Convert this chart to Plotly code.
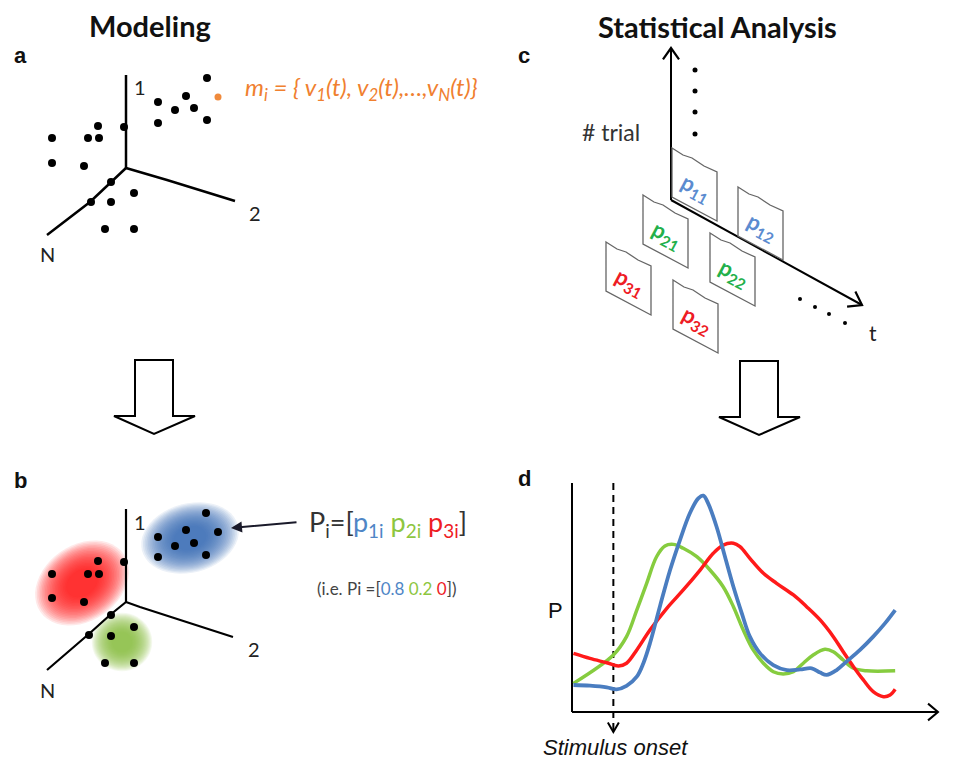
import numpy as np
import plotly.graph_objects as go

W, H = 957, 760

# ---------------- DATA ----------------
# Panel a: points in the N-dim feature space (drawing coordinates)
A_DOTS_X = [207, 186, 158, 175, 194, 158, 207, 98, 124, 52, 88, 99, 52, 84, 111, 134, 91, 111, 105, 134]
A_DOTS_Y = [78, 96, 102, 110, 108, 123, 120, 126, 127, 138, 138, 138, 163, 166, 182, 193, 202, 202, 229, 229]
A_HIGHLIGHT_X = [218]
A_HIGHLIGHT_Y = [97]

# Panel b: clustered points
B_BLUE_X = [206, 186, 218, 158, 175, 194, 158, 206]
B_BLUE_Y = [513, 530, 532, 537, 546, 543, 557, 555]
B_RED_X = [98, 124, 52, 88, 99, 52, 84]
B_RED_Y = [561, 562, 574, 574, 574, 598, 602]
B_GREEN_X = [111, 134, 89, 111, 105, 134]
B_GREEN_Y = [615, 627, 635, 636, 663, 663]

# Panel c: probability cards
CARD_LABELS = ["p<sub>11</sub>", "p<sub>12</sub>", "p<sub>21</sub>", "p<sub>22</sub>", "p<sub>31</sub>", "p<sub>32</sub>"]
CARD_CLASS = [0, 0, 1, 1, 2, 2]

# Panel d: probability time courses (t in %, P in 0..1)
GREEN_T = [0.4, 11.3, 14.9, 17.7, 20.4, 23.1, 25.4, 27.7, 30.4, 34.1, 37.7, 41.3, 44.1, 46.8, 49.5, 52.3, 55.0,
           57.7, 60.5, 63.2, 65.9, 69.1, 71.4, 74.1, 76.9, 80.5, 88.3]
GREEN_P = [0.125, 0.249, 0.329, 0.445, 0.562, 0.678, 0.725, 0.732, 0.715, 0.678, 0.620, 0.547, 0.460, 0.358,
           0.271, 0.213, 0.176, 0.166, 0.176, 0.213, 0.249, 0.274, 0.263, 0.227, 0.191, 0.180, 0.180]
BLUE_T = [0.4, 4.9, 9.5, 12.2, 14.9, 17.7, 19.5, 21.3, 24.0, 26.8, 29.5, 32.2, 34.5, 35.9, 37.2, 39.5, 41.8,
          44.1, 46.4, 48.6, 51.4, 55.0, 58.7, 62.3, 65.5, 67.8, 69.6, 72.3, 75.0, 78.7, 82.3, 85.5, 88.3]
BLUE_P = [0.118, 0.115, 0.108, 0.099, 0.114, 0.154, 0.213, 0.300, 0.460, 0.620, 0.751, 0.868, 0.933, 0.945,
          0.911, 0.809, 0.678, 0.547, 0.431, 0.329, 0.256, 0.205, 0.183, 0.186, 0.191, 0.172, 0.162, 0.183,
          0.220, 0.271, 0.329, 0.387, 0.445]
RED_T = [0.4, 4.9, 9.5, 12.7, 14.9, 17.7, 21.3, 25.9, 30.4, 35.0, 38.6, 41.3, 44.1, 45.9, 48.6, 52.3, 55.9,
         60.5, 64.1, 67.8, 71.4, 74.1, 76.9, 79.6, 82.3, 85.1, 86.9, 88.3]
RED_P = [0.256, 0.234, 0.215, 0.201, 0.213, 0.271, 0.358, 0.453, 0.533, 0.620, 0.693, 0.729, 0.737, 0.722,
         0.671, 0.606, 0.562, 0.511, 0.460, 0.402, 0.329, 0.263, 0.198, 0.140, 0.089, 0.067, 0.074, 0.099]
STIMULUS_T = 11.3

# ---------------- STYLE / LAYOUT CONSTANTS ----------------
C_BLUE = "#4A7DC0"
C_GREEN = "#86CC3F"
C_RED = "#FF1A1A"
CARD_COLORS = ["#5B8BD0", "#22B04B", "#EE1C25"]
TXT_FONT = "Lato"

fig = go.Figure()


def line(xs, ys, width=2.5, color="black", xaxis="x", yaxis="y", dash=None, shape="linear"):
    fig.add_trace(go.Scatter(x=xs, y=ys, mode="lines", xaxis=xaxis, yaxis=yaxis,
                             line=dict(color=color, width=width, dash=dash, shape=shape),
                             hoverinfo="skip"))


def chevron(tip, direction, length=13, half=38, xaxis="x", yaxis="y", sx=1.0, sy=1.0, width=2.2):
    d = np.array(direction, float)
    d /= np.linalg.norm(d)
    xs, ys = [], []
    for sgn in (1, -1):
        a = np.deg2rad(half * sgn)
        r = np.array([d[0] * np.cos(a) - d[1] * np.sin(a), d[0] * np.sin(a) + d[1] * np.cos(a)])
        xs += [tip[0] - r[0] * length * sx, tip[0]]
        ys += [tip[1] - r[1] * length * sy, tip[1]]
    line([xs[0], xs[1], xs[2]], [ys[0], ys[1], ys[2]], width=width, xaxis=xaxis, yaxis=yaxis)


def ellipse_path(cx, cy, rx, ry, ang):
    th = np.linspace(0, 2 * np.pi, 48, endpoint=False)
    a = np.deg2rad(ang)
    px = cx + rx * np.cos(th) * np.cos(a) - ry * np.sin(th) * np.sin(a)
    py = cy + rx * np.cos(th) * np.sin(a) + ry * np.sin(th) * np.cos(a)
    return "M " + " L ".join(f"{x:.1f},{y:.1f}" for x, y in zip(px, py)) + " Z"


def blob(cx, cy, rx, ry, ang, color, n=20):
    for k in range(n):
        s = 1.08 - 0.72 * k / (n - 1)
        fig.add_shape(type="path", path=ellipse_path(cx, cy, rx * s, ry * s, ang), xref="x", yref="y",
                      fillcolor=color, opacity=0.095, line=dict(width=0), layer="below")


def text(x, y, s, size=18, color="#222", family=TXT_FONT, xanchor="center", angle=0,
         weight="normal", style="normal", **kw):
    fig.add_annotation(x=x, y=y, xref="x", yref="y", text=s, showarrow=False, xanchor=xanchor,
                       yanchor="middle", textangle=angle,
                       font=dict(size=size, color=color, family=family, weight=weight, style=style), **kw)


# ---------------- Panel a ----------------
line([126, 126], [75, 168])
line([126, 167, 235], [168, 180, 201])
line([126, 110, 90, 47], [168, 183, 202, 235])
fig.add_trace(go.Scatter(x=A_DOTS_X, y=A_DOTS_Y, mode="markers", marker=dict(size=8, color="black"),
                         hoverinfo="skip"))
fig.add_trace(go.Scatter(x=A_HIGHLIGHT_X, y=A_HIGHLIGHT_Y, mode="markers",
                         marker=dict(size=7, color="#F08A3C"), hoverinfo="skip"))

# ---------------- Panel b ----------------
blob(190, 538, 46, 32, -15, "#3A6DB5")
blob(82, 583, 47, 35, -35, "#FF1010")
blob(122, 642, 28, 27, 0, "#86C43F")
line([126, 126], [509, 602], width=2.2)
line([126, 140, 233], [602, 607, 637], width=2.2)
line([126, 110, 90, 47], [602, 615, 633, 670], width=2.2)
for xs, ys in ((B_BLUE_X, B_BLUE_Y), (B_RED_X, B_RED_Y), (B_GREEN_X, B_GREEN_Y)):
    fig.add_trace(go.Scatter(x=xs, y=ys, mode="markers", marker=dict(size=8, color="black"),
                             hoverinfo="skip"))
fig.add_annotation(x=231, y=528, ax=298, ay=522, xref="x", yref="y", axref="x", ayref="y",
                   showarrow=True, arrowhead=2, arrowsize=1.1, arrowwidth=2, arrowcolor="#1a1a2a", text="")

# ---------------- hollow arrows ----------------
for cx, top in ((154, 360), (759, 361)):
    p = (f"M {cx-19},{top} L {cx+19},{top} L {cx+19},{top+56} L {cx+41},{top+56} L {cx},{top+74} "
         f"L {cx-40},{top+56} L {cx-19},{top+56} Z")
    fig.add_shape(type="path", path=p, xref="x", yref="y", fillcolor="white",
                  line=dict(color="black", width=2))

# ---------------- Panel c ----------------
line([671, 671], [200, 49], width=2)
chevron((671, 48), (0, -1), length=14, half=35)
line([671, 862], [200, 305], width=2)
chevron((862, 305), (191, 105), length=15, half=35)
fig.add_trace(go.Scatter(x=[695, 695, 695, 695], y=[70, 91, 112, 134], mode="markers",
                         marker=dict(size=5, color="black"), hoverinfo="skip"))
fig.add_trace(go.Scatter(x=[800, 815, 829, 845], y=[299, 307, 314, 323], mode="markers",
                         marker=dict(size=4, color="black"), hoverinfo="skip"))

card_pos = [(672, 148), (738, 187), (643, 195), (710, 233), (606, 242), (673, 280)]
CW, CS, CH = 45, 24, 49
for (xl, yt), lab, cls in zip(card_pos, CARD_LABELS, CARD_CLASS):
    p = (f"M {xl},{yt} L {xl+11},{yt+7} L {xl+20},{yt+10} L {xl+32},{yt+18} L {xl+CW},{yt+CS} "
         f"L {xl+CW},{yt+CS+CH} L {xl},{yt+CH} Z")
    fig.add_shape(type="path", path=p, xref="x", yref="y", fillcolor="white",
                  line=dict(color="#666", width=1.3))
    text(xl + CW / 2 + 1, yt + CS / 2 + CH / 2 + 3, lab, size=22,
         color=CARD_COLORS[cls], angle=28, weight="bold")

# ---------------- Panel d ----------------
PX0, PXU = 572, 3.66      # pixel of t=0, pixels per t unit
PY0, PYU = 712, 229       # pixel of P=0, pixels per P unit
TR = [-4, 104]
PR = [-0.1, 1.06]
xd = [(PX0 + TR[0] * PXU) / W, (PX0 + TR[1] * PXU) / W]
yd = [1 - (PY0 - PR[0] * PYU) / H, 1 - (PY0 - PR[1] * PYU) / H]

line([0, 0], [0, 1.0], width=2, xaxis="x2", yaxis="y2")
line([0, 100], [0, 0], width=2, xaxis="x2", yaxis="y2")
chevron((100, 0), (1, 0), length=13, half=40, xaxis="x2", yaxis="y2", sx=1 / PXU, sy=-1 / PYU, width=2)
line([STIMULUS_T, STIMULUS_T], [1.0, -0.085], width=2, xaxis="x2", yaxis="y2", dash="7px,5px")
chevron((STIMULUS_T, -0.087), (0, 1), length=11, half=30, xaxis="x2", yaxis="y2", sx=1 / PXU,
        sy=-1 / PYU, width=2)
line(GREEN_T, GREEN_P, width=3.5, color=C_GREEN, xaxis="x2", yaxis="y2", shape="spline")
line(RED_T, RED_P, width=3.5, color=C_RED, xaxis="x2", yaxis="y2", shape="spline")
line(BLUE_T, BLUE_P, width=3.8, color=C_BLUE, xaxis="x2", yaxis="y2", shape="spline")

# ---------------- Texts ----------------
text(150, 25, "Modeling", size=29, color="#111", weight="bold")
text(717, 26, "Statistical Analysis", size=29, color="#111", weight="bold")
for lx, ly, s in ((20, 55, "a"), (20, 480, "b"), (524, 55, "c"), (524, 478, "d")):
    text(lx, ly, s, size=22, color="#111", family="Liberation Sans", weight="bold")
for lx, ly, s in ((140, 87, "1"), (255, 213, "2"), (47, 254, "N"), (140, 522, "1"), (254, 649, "2"),
                  (47, 690, "N")):
    text(lx, ly, s, size=20, color="#222")
text(243, 88, "m<sub>i</sub> = { v<sub>1</sub>(t), v<sub>2</sub>(t),…,v<sub>N</sub>(t)}", size=24,
     color="#F0802F", xanchor="left", style="italic")
text(307, 523, 'P<sub>i</sub>=[<span style="color:#4F86C6">p<sub>1i</sub></span> '
     '<span style="color:#8DC63F">p<sub>2i</sub></span> <span style="color:#EE1C25">p<sub>3i</sub></span>]',
     size=27, color="#333", xanchor="left")
text(315, 588, '(i.e. Pi =[<span style="color:#4F86C6">0.8</span> <span style="color:#8DC63F">0.2</span> '
     '<span style="color:#EE1C25">0</span>])', size=17, color="#444", xanchor="left")
text(611, 132, "# trial", size=23, color="#333")
text(873, 332, "t", size=21, color="#222")
text(555, 610, "P", size=22, color="#111", family="Liberation Sans")
text(615, 747, "Stimulus onset", size=22, color="#111", family="Liberation Sans", style="italic")

fig.update_layout(
    width=W, height=H, autosize=False, margin=dict(l=0, r=0, t=0, b=0, pad=0),
    paper_bgcolor="white", plot_bgcolor="rgba(0,0,0,0)", showlegend=False,
    xaxis=dict(range=[0, W], domain=[0, 1], visible=False, fixedrange=True),
    yaxis=dict(range=[H, 0], domain=[0, 1], visible=False, fixedrange=True),
    xaxis2=dict(range=TR, domain=xd, visible=False, anchor="y2", fixedrange=True),
    yaxis2=dict(range=PR, domain=yd, visible=False, anchor="x2", fixedrange=True),
)

fig.write_html("out.html", config={"displayModeBar": False})
